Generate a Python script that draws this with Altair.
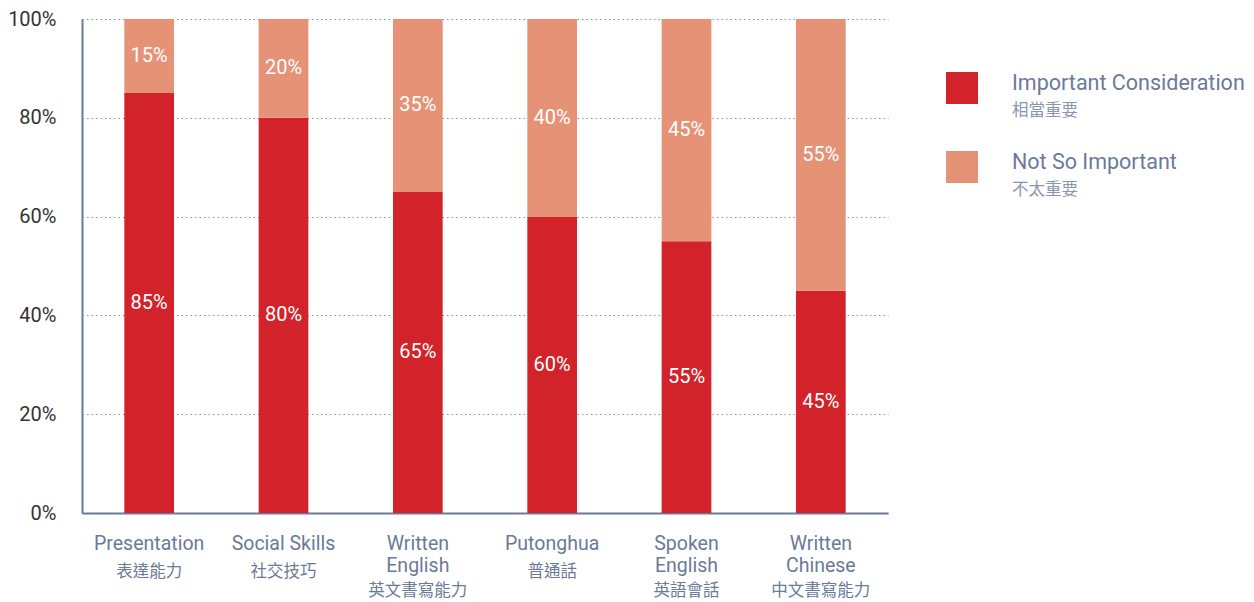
import altair as alt
import pandas as pd

categories = ["Presentation", "Social Skills", "Written|English", "Putonghua", "Spoken|English", "Written|Chinese"]
categories_zh = ["表達能力", "社交技巧", "英文書寫能力", "普通話", "英語會話", "中文書寫能力"]
english_lines = [1, 1, 2, 1, 2, 2]
important = [85, 80, 65, 60, 55, 45]
not_important = [15, 20, 35, 40, 45, 55]

series = ["Important Consideration", "Not So Important"]
series_zh = ["相當重要", "不太重要"]
colors = ["#D2232A", "#E59277"]

rows = []
for c, zh, n, a, b in zip(categories, categories_zh, english_lines, important, not_important):
    rows.append({"cat": c, "zh": zh, "lines": n, "series": series[0], "order": 0, "value": a})
    rows.append({"cat": c, "zh": zh, "lines": n, "series": series[1], "order": 1, "value": b})
df = pd.DataFrame(rows)
cat_df = pd.DataFrame({"cat": categories, "zh": categories_zh, "lines": english_lines})

FONT = "Roboto, Noto Sans CJK TC, sans-serif"
ZH_FONT = "Noto Sans CJK TC, sans-serif"
SLATE = "#6B7A99"
W, H = 806, 494

xenc = alt.X("cat:N", sort=categories, title=None,
             scale=alt.Scale(paddingInner=0.63, paddingOuter=0.315),
             axis=alt.Axis(labelExpr="split(datum.label, '|')", labelAngle=0,
                           labelFont=FONT, labelFontSize=19.5, labelColor=SLATE,
                           labelLineHeight=22, labelPadding=30, labelBaseline="middle",
                           ticks=False, domainColor=SLATE, domainWidth=2))

bars = alt.Chart(df).mark_bar().encode(
    x=xenc,
    y=alt.Y("value:Q", stack="zero", title=None,
            scale=alt.Scale(domain=[0, 100]),
            axis=alt.Axis(values=[0, 20, 40, 60, 80, 100], labelExpr="datum.value + '%'",
                          labelFont=FONT, labelFontSize=20, labelColor="#333333",
                          labelPadding=26, ticks=False, domainColor=SLATE, domainWidth=2,
                          grid=True, gridColor="#7F8FA8", gridDash=[1.5, 3], gridWidth=1.2)),
    color=alt.Color("series:N", scale=alt.Scale(domain=series, range=colors), legend=None),
    order=alt.Order("order:Q"),
)

labels = alt.Chart(df).transform_stack(
    stack="value", groupby=["cat"], as_=["v0", "v1"], sort=[alt.SortField("order")]
).transform_calculate(
    mid="(datum.v0 + datum.v1) / 2", lab="datum.value + '%'"
).mark_text(color="white", font=FONT, fontSize=20, baseline="middle").encode(
    x=alt.X("cat:N", sort=categories),
    y=alt.Y("mid:Q"),
    text="lab:N",
)

zh1 = alt.Chart(cat_df).transform_filter("datum.lines == 1").mark_text(
    font=ZH_FONT, fontSize=16.5, color=SLATE, baseline="middle"
).encode(x=alt.X("cat:N", sort=categories), y=alt.value(H + 59), text="zh:N")

zh2 = alt.Chart(cat_df).transform_filter("datum.lines == 2").mark_text(
    font=ZH_FONT, fontSize=16.5, color=SLATE, baseline="middle"
).encode(x=alt.X("cat:N", sort=categories), y=alt.value(H + 78), text="zh:N")

main = alt.layer(bars, labels, zh1, zh2).properties(width=W, height=H)

leg_df = pd.DataFrame({"series": series, "zh": series_zh})
ly = alt.Y("series:N", sort=series, axis=None, title=None,
           scale=alt.Scale(padding=0.873))
leg_sq = alt.Chart(leg_df).mark_square(size=1024, opacity=1).encode(
    x=alt.value(16), y=ly,
    color=alt.Color("series:N", scale=alt.Scale(domain=series, range=colors), legend=None))
leg_en = alt.Chart(leg_df).mark_text(align="left", baseline="middle", dy=-4,
                                     font=FONT, fontSize=21.5, color=SLATE).encode(
    x=alt.value(66), y=ly, text="series:N")
leg_zh = alt.Chart(leg_df).mark_text(align="left", baseline="middle", dy=23,
                                     font=ZH_FONT, fontSize=16.5, color="#8A96AD").encode(
    x=alt.value(66), y=ly, text="zh:N")
legend = alt.layer(leg_sq, leg_en, leg_zh).properties(width=300, height=217)

chart = alt.hconcat(main, legend, spacing=58).configure_view(stroke=None).properties(
    padding={"left": 7, "top": 9, "right": 0, "bottom": 2}, background="white")

chart.save("out.html", embed_options={"renderer": "svg", "actions": False})
